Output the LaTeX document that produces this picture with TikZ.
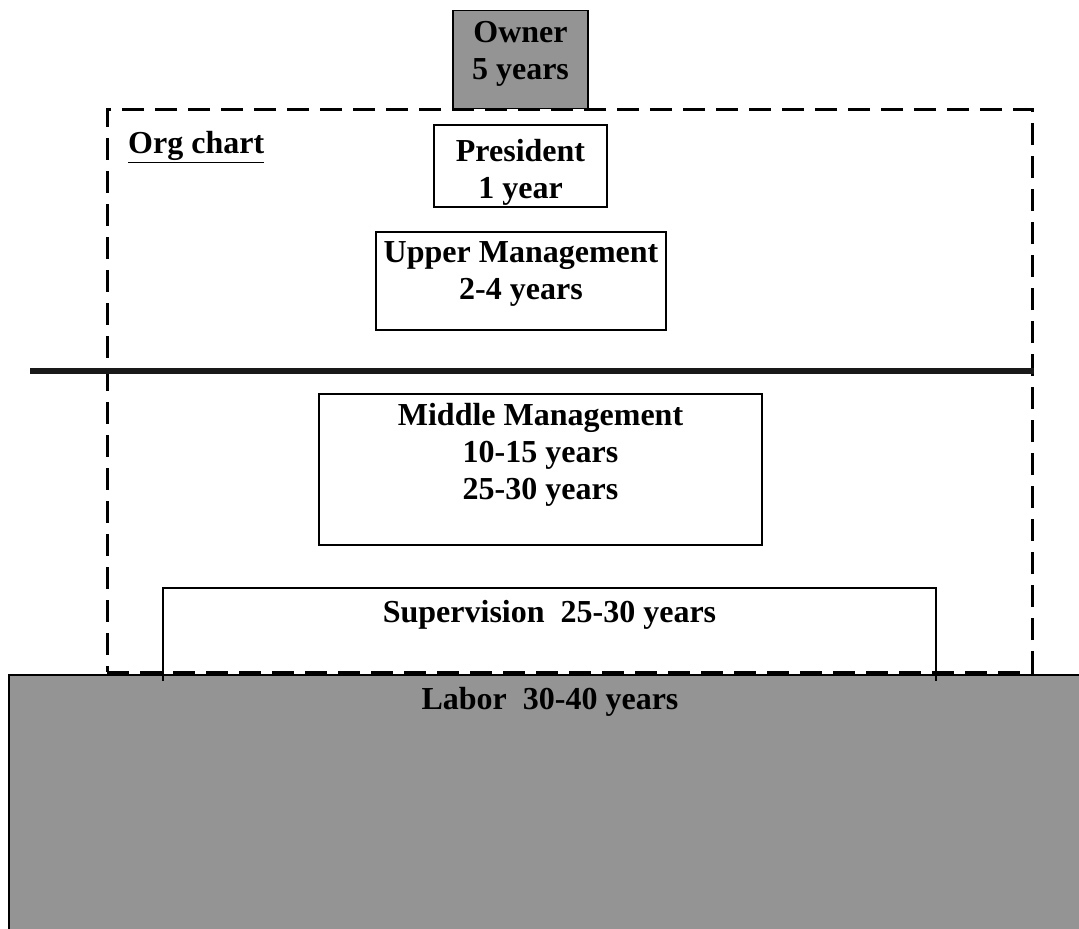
\documentclass[tikz,border=0pt]{standalone}
\usepackage{fontspec}
\setmainfont{Liberation Serif}
\begin{document}
\begin{tikzpicture}[x=1pt,y=-1pt,
  box/.style={draw=black,line width=1.8pt,inner sep=0pt,anchor=center},
  gbox/.style={box,fill=black!42},
  lbl/.style={inner sep=0pt,align=center,font=\fontsize{32}{37}\selectfont\bfseries},
  orgline/.style={draw=black,line width=3pt,dash pattern=on 22pt off 11pt},
  divider/.style={draw=black!90,line width=6pt}]
\useasboundingbox (0,0) rectangle (1079,929);
\clip (0,0) rectangle (1079,929);
% Labor
\node[gbox,minimum width=1090pt,minimum height=270pt] (labor) at (554,810) {};
\node[lbl] (labortxt) at (550,702) {Labor~~30-40 years};
% Org chart dashed frame
\node[orgline,minimum width=925pt,minimum height=563pt,inner sep=0pt] (org) at (569.5,390.5) {};
\node[lbl,anchor=west] (orgtxt) at (128,147) {\underline{Org chart}};
% Owner
\node[gbox,minimum width=135pt,minimum height=98pt] (owner) at (520.5,59.5) {};
\node[lbl] (ownertxt) at (520.5,54) {Owner\\5 years};
% President
\node[box,fill=white,minimum width=173pt,minimum height=82pt] (pres) at (520.5,166) {};
\node[lbl] (prestxt) at (520.5,172) {President\\1 year};
% Upper management
\node[box,minimum width=290pt,minimum height=98pt] (upper) at (521,281) {};
\node[lbl] (uppertxt) at (521,274) {Upper Management\\2-4 years};
% divider
\coordinate (dl) at (30,371);
\draw[divider] (dl) -- (org.east |- dl);
% Middle management
\node[box,minimum width=443pt,minimum height=151pt] (middle) at (540.5,469.5) {};
\node[lbl] (middletxt) at (540.5,455) {Middle Management\\10-15 years\\25-30 years};
% Supervision (open at the bottom)
\node[inner sep=0pt,minimum width=773pt,minimum height=93pt] (sup) at (549.5,634.5) {};
\draw[line width=1.8pt] (sup.south west) -- (sup.north west) -- (sup.north east) -- (sup.south east);
\node[lbl] (suptxt) at (549.5,615) {Supervision~~25-30 years};
\end{tikzpicture}
\end{document}
